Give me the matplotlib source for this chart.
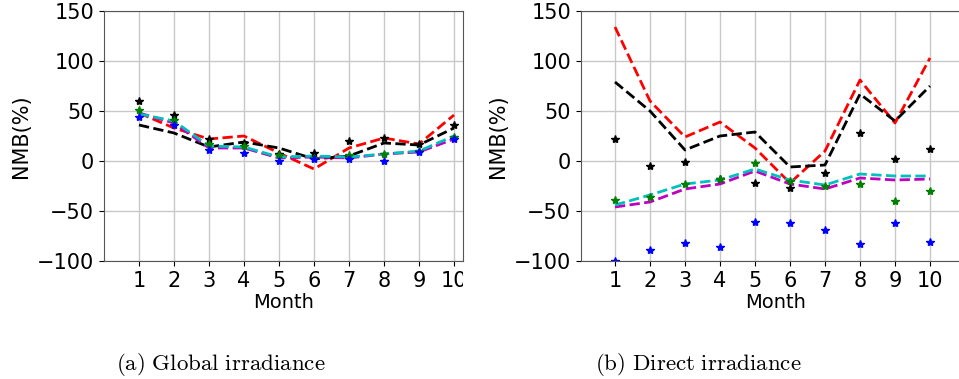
import numpy as np
import matplotlib
matplotlib.use('Agg')
import matplotlib.pyplot as plt
from matplotlib.transforms import Bbox

months = np.arange(1, 11)

# global irradiance (a)
g_red = [48, 33, 22, 25, 8, -8, 13, 23, 17, 46]
g_black = [36, 28, 14, 19, 13, 2, 5, 18, 16, 33]
g_magenta = [48, 38, 13, 13, 3, 4, 3, 7, 9, 22]
g_cyan = [47, 40, 15, 14, 4, 5, 4, 7, 10, 25]
g_star_black = [60, 46, 22, 18, 7, 8, 20, 23, 17, 36]
g_star_green = [51, 41, 17, 15, 6, 3, 6, 7, 10, 24]
g_star_blue = [44, 36, 11, 8, 0, 2, 2, 0, 9, 22]

# direct irradiance (b)
d_red = [134, 60, 24, 39, 13, -22, 10, 81, 38, 103]
d_black = [79, 50, 11, 25, 29, -6, -4, 67, 40, 75]
d_magenta = [-46, -41, -28, -23, -10, -23, -28, -17, -19, -18]
d_cyan = [-44, -34, -23, -19, -8, -19, -24, -13, -15, -15]
d_star_black = [22, -5, -1, -18, -22, -27, -12, 28, 2, 12]
d_star_green = [-39, -36, -23, -18, -2, -20, -25, -23, -40, -30]
d_star_blue = [-100, -89, -82, -86, -61, -62, -69, -83, -62, -81]

yticks = [-100, -50, 0, 50, 100, 150]

fig = plt.figure(figsize=(9.59, 3.79), dpi=100)
W, H = 959, 379
ax1 = fig.add_axes([104 / W, 1 - 261 / H, 359 / W, 250 / H])
ax2 = fig.add_axes([581 / W, 1 - 261 / H, 389 / W, 250 / H])


def draw(ax, red, black, magenta, cyan, sb, sg, sbl):
    ax.plot(months, red, 'r--', lw=2)
    ax.plot(months, black, 'k--', lw=2)
    ax.plot(months, magenta, 'm--', lw=2)
    ax.plot(months, cyan, 'c--', lw=2)
    ax.plot(months, sb, 'k*', ms=6)
    ax.plot(months, sg, 'g*', ms=6)
    ax.plot(months, sbl, 'b*', ms=6)
    ax.set_ylim(-100, 150)
    ax.set_yticks(yticks)
    ax.set_xticks(months)
    ax.grid(True, color='#c8c8c8', lw=1)
    ax.set_axisbelow(True)
    ax.tick_params(labelsize=15)
    ax.set_xlabel('Month', fontsize=14, labelpad=2)
    ax.set_ylabel('NMB(%)', fontsize=15)
    for s in ax.spines.values():
        s.set_color('#555555')


draw(ax1, g_red, g_black, g_magenta, g_cyan, g_star_black, g_star_green, g_star_blue)
draw(ax2, d_red, d_black, d_magenta, d_cyan, d_star_black, d_star_green, d_star_blue)
ax1.set_xlim(1 - 35 / 35.0, 10 + 9 / 35.0)
ax2.set_xlim(1 - 34 / 35.0, 10 + 40 / 35.0)

# the left subfigure is cropped at its right edge
fig.canvas.draw()
clip = Bbox.from_extents(0, 0, 463, H)
for lab in ax1.get_xticklabels():
    lab.set_clip_box(clip)
    lab.set_clip_on(True)

plt.rcParams['mathtext.fontset'] = 'cm'
fig.text(221 / W, 1 - 364 / H, r'$\mathrm{(a)\ Global\ irradiance}$', fontsize=16.5,
         ha='center', va='center')
fig.text(698 / W, 1 - 364 / H, r'$\mathrm{(b)\ Direct\ irradiance}$', fontsize=16.5,
         ha='center', va='center')

fig.savefig('out.png', dpi=100)
